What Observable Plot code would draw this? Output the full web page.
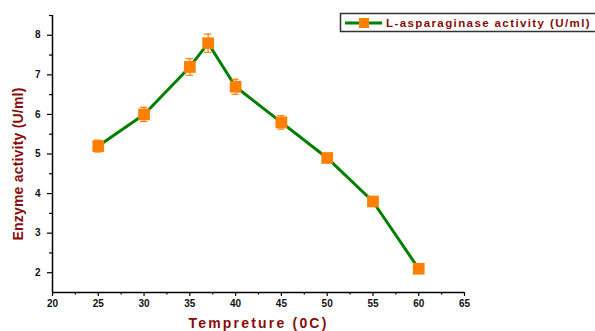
<!DOCTYPE html>
<html>
<head>
<meta charset="utf-8">
<script src="https://cdn.jsdelivr.net/npm/d3@7"></script>
<script src="https://cdn.jsdelivr.net/npm/@observablehq/plot@0.6"></script>
<style>
  html, body { margin: 0; padding: 0; background: #fff; }
  #chart { width: 595px; height: 331px; overflow: hidden; }
  svg { font-family: "Liberation Sans", Arial, sans-serif; }
</style>
</head>
<body>
<div id="chart"></div>
<script>
const temps = [25, 30, 35, 37, 40, 45, 50, 55, 60];
const activity = [5.2, 6.0, 7.2, 7.8, 6.7, 5.8, 4.9, 3.8, 2.1];
const errors = [0.15, 0.18, 0.21, 0.23, 0.19, 0.17, 0.1, 0.05, 0.05];
const xMajorTicks = [20, 25, 30, 35, 40, 45, 50, 55, 60, 65];
const xMinorTicks = [22.5, 27.5, 32.5, 37.5, 42.5, 47.5, 52.5, 57.5, 62.5];
const yMajorTicks = [2, 3, 4, 5, 6, 7, 8];
const yMinorTicks = [2.5, 3.5, 4.5, 5.5, 6.5, 7.5, 8.5];
const xTitle = "Tempreture (0C)";
const yTitle = "Enzyme activity (U/ml)";
const seriesName = "L-asparaginase activity (U/ml)";

const data = temps.map((t, i) => ({x: t, y: activity[i], e: errors[i]}));
const titleColor = "#8B0A0A";
const lineColor = "#008000";
const markColor = "#FF8000";

const plot = Plot.plot({
  width: 595,
  height: 331,
  marginLeft: 52,
  marginRight: 131,
  marginTop: 15,
  marginBottom: 39,
  style: {fontFamily: "Liberation Sans, Arial, sans-serif", background: "#fff"},
  x: {domain: [20, 65]},
  y: {domain: [1.5, 8.5]},
  marks: [
    Plot.axisX({ticks: xMajorTicks, tickFormat: d => String(d), tickSize: 4, tickPadding: 3, fontSize: 10, fontWeight: "bold", stroke: "#000", strokeWidth: 1.2, fill: "#111", label: null}),
    Plot.axisX({ticks: xMinorTicks, tickSize: 2.5, text: null, stroke: "#000", strokeWidth: 1.2, label: null}),
    Plot.axisY({ticks: yMajorTicks, tickFormat: d => String(d), tickSize: 5, tickPadding: 7, fontSize: 10, fontWeight: "bold", stroke: "#000", strokeWidth: 1.2, fill: "#111", label: null}),
    Plot.axisY({ticks: yMinorTicks, tickSize: 3, text: null, stroke: "#000", strokeWidth: 1.2, label: null}),
    Plot.ruleX([20], {stroke: "#000", strokeWidth: 1.5}),
    Plot.ruleY([1.5], {stroke: "#000", strokeWidth: 1.5}),
    Plot.line(data, {x: "x", y: "y", stroke: lineColor, strokeWidth: 3}),
    Plot.ruleX(data, {x: "x", y1: d => d.y - d.e, y2: d => d.y + d.e, stroke: markColor, strokeWidth: 1.2}),
    Plot.ruleY(data, {y: d => d.y + d.e, x1: d => d.x - 0.4, x2: d => d.x + 0.4, stroke: markColor, strokeWidth: 1.2}),
    Plot.ruleY(data, {y: d => d.y - d.e, x1: d => d.x - 0.4, x2: d => d.x + 0.4, stroke: markColor, strokeWidth: 1.2}),
    Plot.dot(data, {x: "x", y: "y", symbol: "square", r: 6.6, fill: markColor, stroke: null}),
    Plot.text([xTitle], {frameAnchor: "bottom", dy: 31, text: d => d, fill: titleColor, fontSize: 14, fontWeight: "bold", lineAnchor: "middle", textAnchor: "middle"}),
    Plot.text([yTitle], {frameAnchor: "left", dx: -34, dy: 10, rotate: -90, text: d => d, fill: titleColor, fontSize: 14, fontWeight: "bold", lineAnchor: "middle", textAnchor: "middle"})
  ]
});

document.getElementById("chart").appendChild(plot);

const svg = d3.select(plot);
// Letter spacing for titles
svg.selectAll("text").each(function() {
  const t = this.textContent;
  if (t === xTitle) d3.select(this).style("letter-spacing", "2.2px");
  if (t === yTitle) d3.select(this).style("letter-spacing", "0.2px");
});

// Legend (drawn in the SVG)
const lg = svg.append("g").attr("class", "legend");
lg.append("rect").attr("x", 340.5).attr("y", 13.5).attr("width", 270).attr("height", 18)
  .attr("fill", "#fff").attr("stroke", "#333").attr("stroke-width", 1.5);
lg.append("line").attr("x1", 345).attr("x2", 382).attr("y1", 23).attr("y2", 23)
  .attr("stroke", lineColor).attr("stroke-width", 3);
lg.append("rect").attr("x", 359).attr("y", 18).attr("width", 10).attr("height", 10).attr("fill", markColor);
lg.append("text").attr("x", 386).attr("y", 27).text(seriesName)
  .attr("text-anchor", "start")
  .attr("fill", titleColor).attr("font-size", 11.5).attr("font-weight", "bold")
  .style("letter-spacing", "1.4px");
</script>
</body>
</html>
